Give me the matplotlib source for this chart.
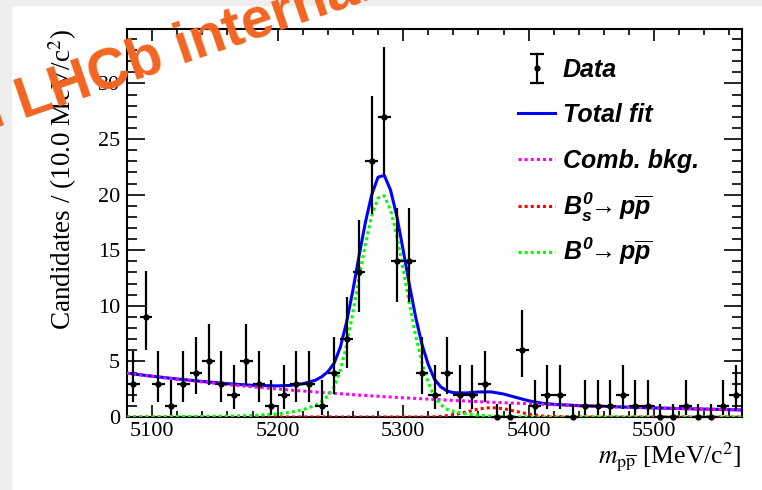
import numpy as np
import matplotlib
matplotlib.use("Agg")
import matplotlib.pyplot as plt
from matplotlib.patches import Rectangle
from matplotlib.ticker import MultipleLocator

# data: candidates per 10 MeV bin, bins from 5080 to 5570
bin_lo = 5080
bin_width = 10
counts = [3, 9, 3, 1, 3, 4, 5, 3, 2, 5, 3, 1, 2, 3, 3, 1, 4, 7, 13, 23,
          27, 14, 14, 4, 2, 4, 2, 2, 3, 0, 0, 6, 1, 2, 2, 0, 1, 1, 1, 2,
          1, 1, 0, 0, 1, 0, 0, 1, 2]

# fit curves
curve_mass = [5080, 5100, 5120, 5140, 5160, 5180, 5200, 5210, 5220, 5230,
              5235, 5240, 5245, 5250, 5255, 5260, 5265, 5270, 5275, 5280,
              5285, 5290, 5295, 5300, 5305, 5310, 5315, 5320, 5325, 5330,
              5335, 5340, 5350, 5360, 5370, 5380, 5390, 5400, 5410, 5420,
              5440, 5460, 5480, 5500, 5520, 5540, 5560, 5570]
total_fit = [3.94, 3.67, 3.42, 3.20, 3.00, 2.85, 2.80, 2.84, 2.99, 3.30,
             3.61, 4.07, 4.83, 6.29, 8.55, 11.41, 14.57, 17.54, 20.00, 21.57,
             21.73, 20.40, 18.06, 15.03, 11.90, 8.97, 6.54, 4.72, 3.40, 2.71,
             2.34, 2.19, 2.16, 2.25, 2.26, 2.07, 1.76, 1.46, 1.25, 1.14,
             1.02, 0.95, 0.88, 0.82, 0.76, 0.71, 0.66, 0.63]
comb_bkg = [3.94, 3.66, 3.39, 3.15, 2.92, 2.71, 2.52, 2.42, 2.34, 2.25,
            2.21, 2.17, 2.13, 2.09, 2.05, 2.01, 1.97, 1.94, 1.90, 1.87,
            1.83, 1.80, 1.76, 1.73, 1.70, 1.67, 1.64, 1.61, 1.58, 1.55,
            1.52, 1.49, 1.44, 1.38, 1.33, 1.28, 1.24, 1.19, 1.15, 1.10,
            1.02, 0.95, 0.88, 0.82, 0.76, 0.71, 0.66, 0.63]
bs_pp = [0.0, 0.0, 0.0, 0.0, 0.0, 0.0, 0.0, 0.0, 0.0, 0.0,
         0.0, 0.0, 0.0, 0.0, 0.0, 0.0, 0.0, 0.0, 0.0, 0.0,
         0.0, 0.0, 0.0, 0.0, 0.0, 0.0, 0.0, 0.01, 0.02, 0.06,
         0.12, 0.20, 0.44, 0.72, 0.85, 0.75, 0.50, 0.26, 0.10, 0.04,
         0.0, 0.0, 0.0, 0.0, 0.0, 0.0, 0.0, 0.0]
b0_pp = [0.0, 0.01, 0.03, 0.05, 0.08, 0.14, 0.28, 0.42, 0.65, 1.05,
         1.40, 1.90, 2.70, 4.20, 6.50, 9.40, 12.60, 15.60, 18.10, 19.70,
         19.90, 18.60, 16.30, 13.30, 10.20, 7.30, 4.90, 3.10, 1.80, 1.10,
         0.70, 0.50, 0.28, 0.15, 0.08, 0.04, 0.02, 0.01, 0.0, 0.0,
         0.0, 0.0, 0.0, 0.0, 0.0, 0.0, 0.0, 0.0]

legend_labels = ["Data", "Total fit", "Comb. bkg.",
                 r"$B^0_s\!\!\rightarrow p\overline{p}$",
                 r"$B^0\!\!\rightarrow p\overline{p}$"]


def poisson_band(n):
    # 68% poisson interval, RooFit style
    n = np.asarray(n, dtype=float)
    safe = np.where(n > 0, n, 1.0)
    lo = np.where(n > 0, safe * (1 - 1 / (9 * safe) - 1 / (3 * np.sqrt(safe))) ** 3, 0.0)
    hi = np.where(n > 0, n + np.sqrt(n + 0.75) + 1, -np.log(1 - 0.6827))
    return n - lo, hi - n


def main():
    plt.rcParams['font.family'] = 'Liberation Serif'
    plt.rcParams['mathtext.fontset'] = 'custom'
    plt.rcParams['mathtext.rm'] = 'Liberation Sans:bold:italic'
    plt.rcParams['mathtext.it'] = 'Liberation Sans:bold:italic'
    plt.rcParams['mathtext.bf'] = 'Liberation Sans:bold:italic'

    fig = plt.figure(figsize=(7.62, 4.90), dpi=100)
    fig.patch.set_facecolor('white')
    # slide shadow edges
    fig.add_artist(Rectangle((0, 0), 11 / 762, 1, transform=fig.transFigure,
                             color='#eeeeee', zorder=0))
    fig.add_artist(Rectangle((0, 1 - 5 / 490), 1, 5 / 490, transform=fig.transFigure,
                             color='#eeeeee', zorder=0))

    ax = fig.add_axes([127 / 762, 73 / 490, 615 / 762, 388 / 490])

    n = np.array(counts)
    x = bin_lo + bin_width * (np.arange(len(n)) + 0.5)
    lo, hi = poisson_band(n)

    ax.plot(curve_mass, total_fit, color='#0000ff', lw=2.2, zorder=3)
    ax.plot(curve_mass, comb_bkg, color='#ff00ff', lw=2.2, ls=(0, (1, 1)), zorder=4)
    ax.plot(curve_mass, bs_pp, color='#ff0000', lw=2.2, ls=(0, (1, 1)), zorder=4)
    ax.plot(curve_mass, b0_pp, color='#00ff00', lw=2.2, ls=(0, (1, 1)), zorder=4)

    ax.errorbar(x, n, yerr=[lo, hi], xerr=bin_width / 2, fmt='o', color='black',
                ms=3.5, elinewidth=1.6, capsize=0, zorder=5, clip_on=False)

    ax.set_xlim(5080, 5570)
    ax.set_ylim(0, 34.9)
    ax.xaxis.set_major_locator(MultipleLocator(100))
    ax.xaxis.set_minor_locator(MultipleLocator(20))
    ax.yaxis.set_major_locator(MultipleLocator(5))
    ax.yaxis.set_minor_locator(MultipleLocator(1))
    ax.tick_params(which='both', direction='in', top=True, right=True,
                   width=1.2, labelsize=16)
    ax.tick_params(axis='x', which='major', length=8.6, pad=3.5)
    ax.tick_params(axis='x', which='minor', length=4.3)
    ax.tick_params(axis='y', which='major', length=13, pad=5)
    ax.tick_params(axis='y', which='minor', length=7)
    for s in ax.spines.values():
        s.set_linewidth(1.5)

    ax.set_xlabel(r'$m_{\mathrm{p}\overline{\mathrm{p}}}$ [MeV/c$^{2}$]', fontsize=18.5,
                  loc='right', math_fontfamily='stix')
    ax.xaxis.set_label_coords(1.0, -0.062)
    ax.set_ylabel('Candidates / (10.0 MeV/c$^{2}$)', fontsize=19.5, loc='top',
                  math_fontfamily='stix')
    ax.yaxis.set_label_coords(-0.078, 1.0)

    # legend, drawn by hand like the ROOT one
    rows = [0.899, 0.784, 0.665, 0.544, 0.425]
    hx0, hx1, tx = 0.636, 0.696, 0.709
    tf = ax.transAxes
    ax.plot([0.667, 0.667], [rows[0] - 0.037, rows[0] + 0.037], color='black',
            lw=1.6, transform=tf, clip_on=False)
    ax.plot([0.667, 0.667], [rows[0] - 0.037, rows[0] + 0.037], ls='none',
            marker='_', ms=10, mew=1.6, color='black', transform=tf, clip_on=False)
    ax.plot([0.667], [rows[0]], 'o', ms=3.5, color='black', transform=tf)
    styles = [None, ('#0000ff', '-'), ('#ff00ff', (0, (1, 1))),
              ('#ff0000', (0, (1, 1))), ('#00ff00', (0, (1, 1)))]
    for y, lab, st in zip(rows, legend_labels, styles):
        if st is not None:
            ax.plot([hx0, hx1], [y, y], color=st[0], ls=st[1], lw=2.2, transform=tf)
        ax.text(tx, y - 0.023, lab, transform=tf, fontsize=18, va='baseline',
                ha='left', family='Liberation Sans', weight='bold', style='italic')

    # watermark
    wx, wy = 23 / 762, 1 - 119 / 490
    fig.text(wx, wy, 'LHCb internal', rotation=19,
             rotation_mode='anchor', ha='left', va='baseline', fontsize=41,
             family='Liberation Sans', weight='bold', color='#f26522', zorder=10)
    fig.text(wx, wy, 'l ', rotation=19,
             rotation_mode='anchor', ha='right', va='baseline', fontsize=41,
             family='Liberation Sans', weight='bold', color='#f26522', zorder=10)

    fig.savefig('out.png', dpi=100)


if __name__ == "__main__":
    main()
